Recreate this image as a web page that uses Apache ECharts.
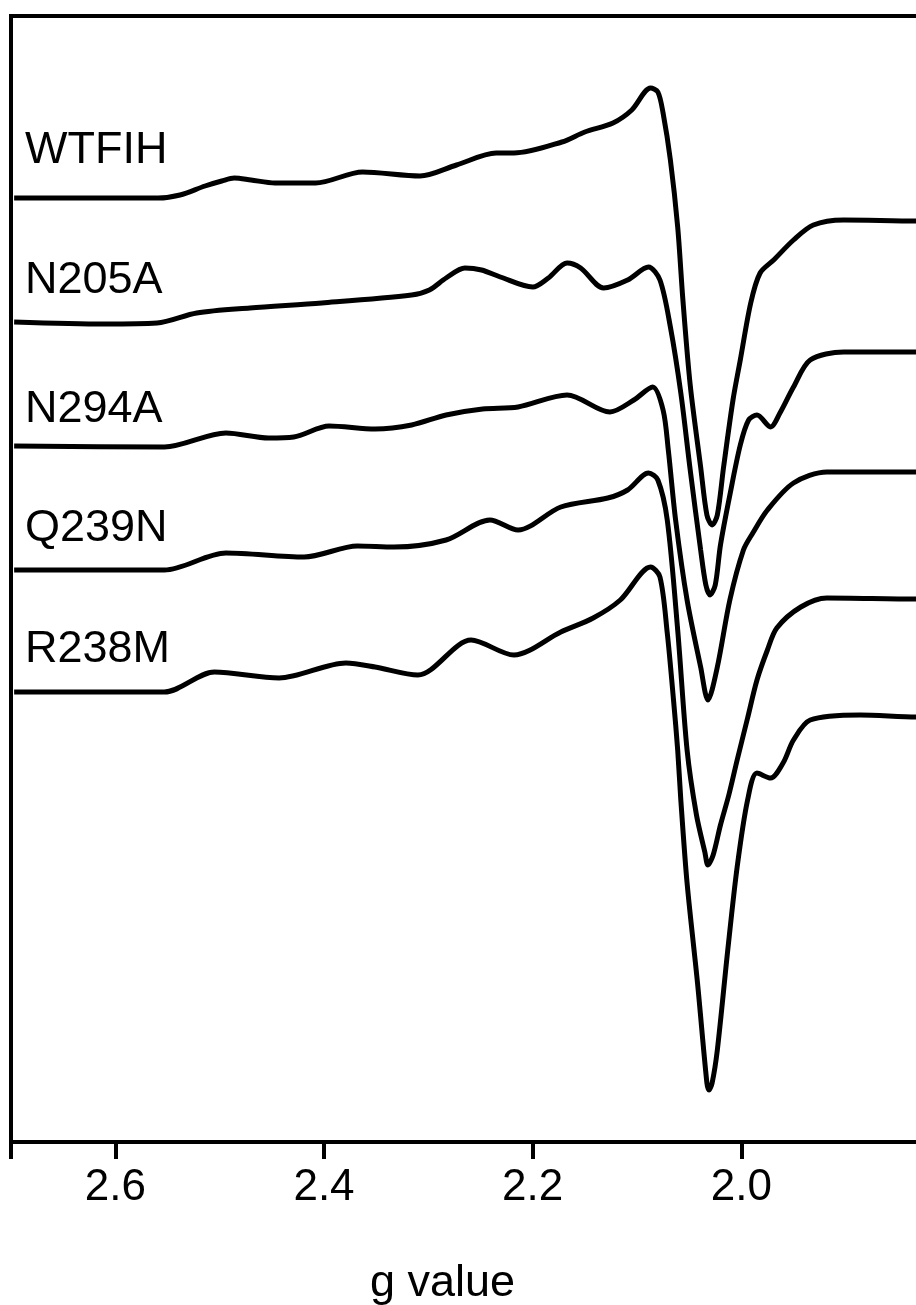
<!DOCTYPE html>
<html>
<head>
<meta charset="utf-8">
<script src="https://cdn.jsdelivr.net/npm/echarts@6/dist/echarts.min.js"></script>
<style>
  html, body { margin: 0; padding: 0; background: #fff; overflow: hidden; }
  #chart { width: 1000px; height: 1305px; }
</style>
</head>
<body>
<div id="chart"></div>
<script>
// EPR spectra, [g value, signal] relative to each trace's own baseline
var wtfih = [
    [2.697, 0], [2.559, 0], [2.538, 3], [2.514, 12], [2.498, 17], [2.486, 20], [2.470, 18],
    [2.447, 15], [2.408, 15], [2.363, 26], [2.308, 22], [2.273, 33], [2.235, 45], [2.218, 45],
    [2.172, 56], [2.150, 66], [2.123, 75], [2.105, 88], [2.087, 110], [2.080, 106], [2.075, 85],
    [2.068, 38], [2.061, -29], [2.056, -102], [2.049, -187], [2.039, -269], [2.033, -317],
    [2.028, -327], [2.023, -317], [2.017, -269], [2.008, -202], [2.001, -162], [1.991, -105],
    [1.982, -75], [1.969, -62], [1.950, -42], [1.931, -27], [1.902, -22], [1.832, -23], [1.800, -23]
];
var n205a = [
    [2.697, 0], [2.610, -2], [2.560, -1], [2.522, 9], [2.471, 14], [2.402, 19], [2.316, 27],
    [2.299, 32], [2.283, 44], [2.265, 54], [2.249, 52], [2.231, 45], [2.200, 35], [2.185, 44],
    [2.167, 59], [2.154, 54], [2.132, 34], [2.109, 42], [2.089, 55], [2.078, 42], [2.068, -5],
    [2.058, -71], [2.049, -148], [2.039, -228], [2.034, -263], [2.030, -273], [2.025, -263],
    [2.020, -223], [2.011, -173], [2.001, -123], [1.993, -98], [1.985, -93], [1.972, -105],
    [1.963, -91], [1.950, -65], [1.934, -38], [1.902, -30], [1.832, -30], [1.800, -30]
];
var n294a = [
    [2.697, 0], [2.553, -1], [2.494, 13], [2.453, 8], [2.429, 9], [2.395, 20], [2.351, 17],
    [2.316, 21], [2.283, 31], [2.248, 37], [2.214, 39], [2.167, 51], [2.126, 34], [2.103, 46],
    [2.085, 59], [2.075, 36], [2.070, -4], [2.063, -74], [2.052, -154], [2.039, -221],
    [2.032, -254], [2.023, -221], [2.011, -154], [1.998, -104], [1.989, -87], [1.975, -64],
    [1.950, -37], [1.918, -26], [1.832, -26], [1.800, -26]
];
var q239n = [
    [2.697, 0], [2.553, 0], [2.494, 17], [2.419, 13], [2.368, 24], [2.333, 23], [2.283, 30],
    [2.241, 50], [2.214, 40], [2.173, 63], [2.128, 72], [2.109, 80], [2.089, 97], [2.080, 90],
    [2.071, 50], [2.061, -60], [2.052, -180], [2.043, -245], [2.035, -282], [2.032, -295],
    [2.027, -285], [2.020, -255], [2.012, -225], [2.004, -190], [1.994, -148], [1.985, -110],
    [1.975, -80], [1.966, -58], [1.943, -37], [1.918, -28], [1.832, -29], [1.800, -29]
];
var r238m = [
    [2.697, 0], [2.553, 0], [2.505, 20], [2.443, 14], [2.379, 29], [2.351, 25], [2.310, 17],
    [2.259, 52], [2.218, 37], [2.173, 60], [2.142, 74], [2.116, 92], [2.087, 125], [2.078, 115],
    [2.071, 59], [2.065, -8], [2.061, -58], [2.058, -108], [2.052, -191], [2.042, -291],
    [2.033, -391], [2.031, -398], [2.028, -391], [2.023, -358], [2.013, -258], [2.004, -175],
    [1.994, -108], [1.985, -81], [1.972, -86], [1.960, -71], [1.950, -48], [1.934, -28],
    [1.886, -23], [1.832, -25], [1.800, -25]
];

var traceNames = ['WTFIH', 'N205A', 'N294A', 'Q239N', 'R238M'];
var traceData = [wtfih, n205a, n294a, q239n, r238m];
var traceOffsets = [944, 820, 696, 572, 450];   // vertical stacking of the spectra
var gTicks = [2.6, 2.4, 2.2, 2.0];

var fontFamily = '"Liberation Sans", Arial, sans-serif';
var chart = echarts.init(document.getElementById('chart'));

var series = traceData.map(function(pts, i) {
    return {
        name: traceNames[i],
        type: 'line',
        data: pts.map(function(p) { return [p[0], p[1] + traceOffsets[i]]; }),
        showSymbol: false,
        smooth: 0.3,
        lineStyle: { color: '#000', width: 5 },
        z: 3
    };
});

// trace labels sit just above each baseline, at the left
var labelY = [151, 281, 410, 529, 650];
var graphics = traceNames.map(function(name, i) {
    return {
        type: 'text',
        left: 25,
        top: labelY[i] - 23,
        style: { text: name, fill: '#000', font: '45px ' + fontFamily }
    };
});
graphics.push({
    type: 'text',
    left: 446 - 76,
    top: 1261,
    style: { text: 'g value', fill: '#000', font: '45px ' + fontFamily }
});

var option = {
    animation: false,
    backgroundColor: '#fff',
    grid: {
        left: 11, top: 16, right: 50, bottom: 163,
        show: true, borderColor: '#000', borderWidth: 4
    },
    xAxis: {
        type: 'value',
        inverse: true,
        min: 1.8,
        max: 2.7,
        interval: 0.2,
        splitLine: { show: false },
        axisLine: { show: true, lineStyle: { color: '#000', width: 4 } },
        axisTick: { show: true, length: 17, lineStyle: { color: '#000', width: 4 } },
        axisLabel: {
            margin: 24,
            color: '#000',
            fontSize: 44,
            fontFamily: fontFamily,
            formatter: function(v) {
                var hit = gTicks.some(function(t) { return Math.abs(t - v) < 1e-6; });
                return hit ? v.toFixed(1) : '';
            }
        }
    },
    yAxis: {
        type: 'value',
        min: 0,
        max: 1126,
        show: false
    },
    graphic: graphics,
    series: series
};

chart.setOption(option);
</script>
</body>
</html>
